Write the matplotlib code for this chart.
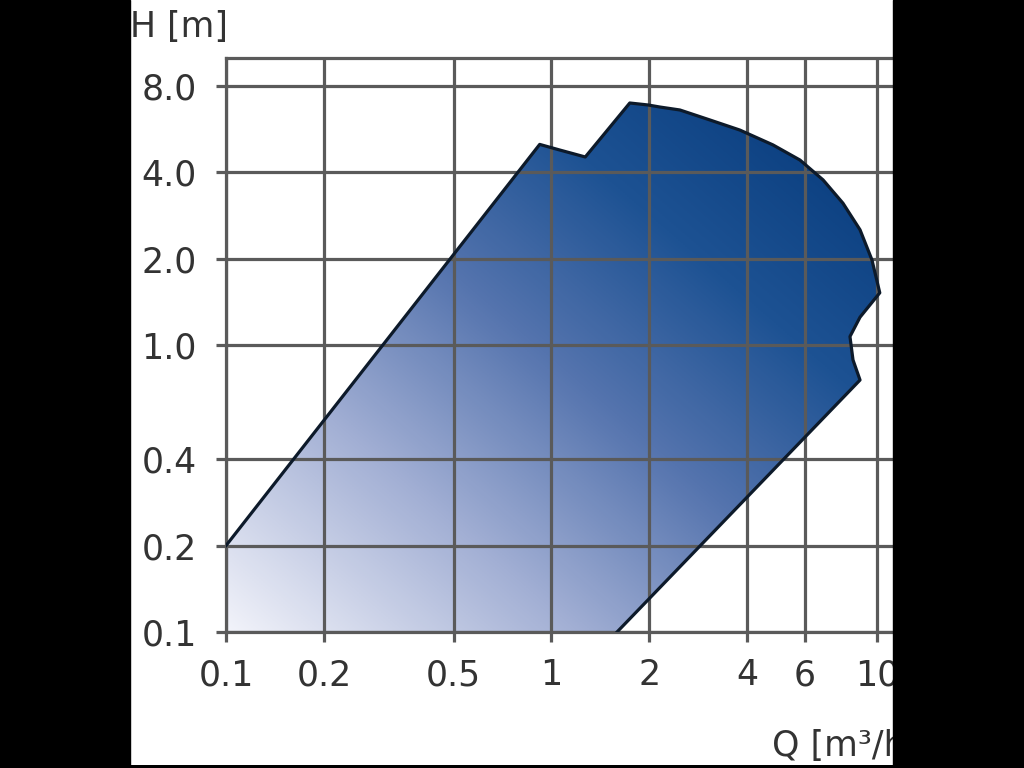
import numpy as np
import matplotlib
matplotlib.use("Agg")
import matplotlib.pyplot as plt
from matplotlib.colors import LinearSegmentedColormap
from matplotlib.patches import Polygon, Rectangle

# working range envelope (Q in m3/h, H in m)
q_edge = [0.1, 0.92, 1.06, 1.27, 1.74, 1.98, 2.15, 2.48, 3.07, 3.79, 4.79, 5.8,
          6.83, 7.86, 8.87, 9.65, 10.2, 8.87, 8.26, 8.44, 8.87, 1.59]
h_edge = [0.2, 5.0, 4.78, 4.52, 6.97, 6.86, 6.75, 6.59, 6.08, 5.61, 4.98, 4.41,
          3.76, 3.12, 2.52, 1.98, 1.52, 1.25, 1.07, 0.887, 0.755, 0.1]

x_ticks = [0.1, 0.2, 0.5, 1, 2, 4, 6, 10]
x_labels = ["0.1", "0.2", "0.5", "1", "2", "4", "6", "10"]
y_ticks = [0.1, 0.2, 0.4, 1.0, 2.0, 4.0, 8.0]
y_labels = ["0.1", "0.2", "0.4", "1.0", "2.0", "4.0", "8.0"]

font = ["DejaVu Sans"]
grid_col = "#5a5a5a"
text_col = "#333333"

fig = plt.figure(figsize=(10.24, 7.68), dpi=100, facecolor="black")
panel = fig.add_axes([130 / 1024, 3 / 768, (893 - 130) / 1024, 765 / 768])
panel.set_facecolor("white")
panel.set_xticks([])
panel.set_yticks([])
for s in panel.spines.values():
    s.set_visible(False)

ax = fig.add_axes([226 / 1024, 1 - 632 / 768, (893 - 226) / 1024, (632 - 58) / 768])
ax.set_xscale("log")
ax.set_yscale("log")
ax.set_xlim(0.1, 11.2)
ax.set_ylim(0.1, 10)
ax.patch.set_alpha(0)

# gradient fill clipped to the envelope
cmap = LinearSegmentedColormap.from_list(
    "env", [(0, "#f2f3fa"), (0.3, "#a2afd4"), (0.55, "#5574ae"),
            (0.78, "#1d5293"), (1, "#0b3f80")])
u, v = np.meshgrid(np.linspace(0, 1, 300), np.linspace(0, 1, 300))
grad = np.clip((u + v) / 1.75, 0, 1)
pts = list(zip(q_edge, h_edge)) + [(0.1, 0.1)]
poly = Polygon(pts, closed=True, facecolor="none", edgecolor="none",
               transform=ax.transData)
ax.add_patch(poly)
im = ax.imshow(grad, extent=[0, 1, 0, 1], transform=ax.transAxes, origin="lower",
               cmap=cmap, aspect="auto", zorder=1, interpolation="bilinear")
im.set_clip_path(poly)

ax.plot(q_edge, h_edge, color="#0d1a2a", lw=2.3, zorder=4, solid_joinstyle="round")

ax.set_xticks(x_ticks)
ax.set_xticklabels(x_labels)
ax.set_yticks(y_ticks)
ax.set_yticklabels(y_labels)
ax.minorticks_off()
ax.grid(True, color=grid_col, lw=2.3, zorder=3)
ax.set_axisbelow(False)
ax.tick_params(direction="out", length=7, width=2.3, color=grid_col,
               labelsize=25, labelcolor=text_col)
ax.tick_params(axis="x", pad=12)
ax.tick_params(axis="y", pad=14)
for lab in ax.get_xticklabels() + ax.get_yticklabels():
    lab.set_family(font)
ax.spines["right"].set_visible(False)
for side in ["top", "left", "bottom"]:
    ax.spines[side].set_color(grid_col)
    ax.spines[side].set_linewidth(2.3)

fig.text(130 / 1024, 1 - 27 / 768, "H [m]", family=font, fontsize=25,
         color=text_col, va="center", ha="left")
fig.text(772 / 1024, 1 - 746 / 768, "Q [m³/h]", family=font, fontsize=25,
         color=text_col, va="center", ha="left")

# black side bands, drawn over everything
fig.patches.append(Rectangle((0, 0), 130 / 1024, 1, transform=fig.transFigure,
                             color="black", zorder=10))
fig.patches.append(Rectangle((893 / 1024, 0), 1, 1, transform=fig.transFigure,
                             color="black", zorder=10))

fig.savefig("out.png", dpi=100, facecolor="black")
